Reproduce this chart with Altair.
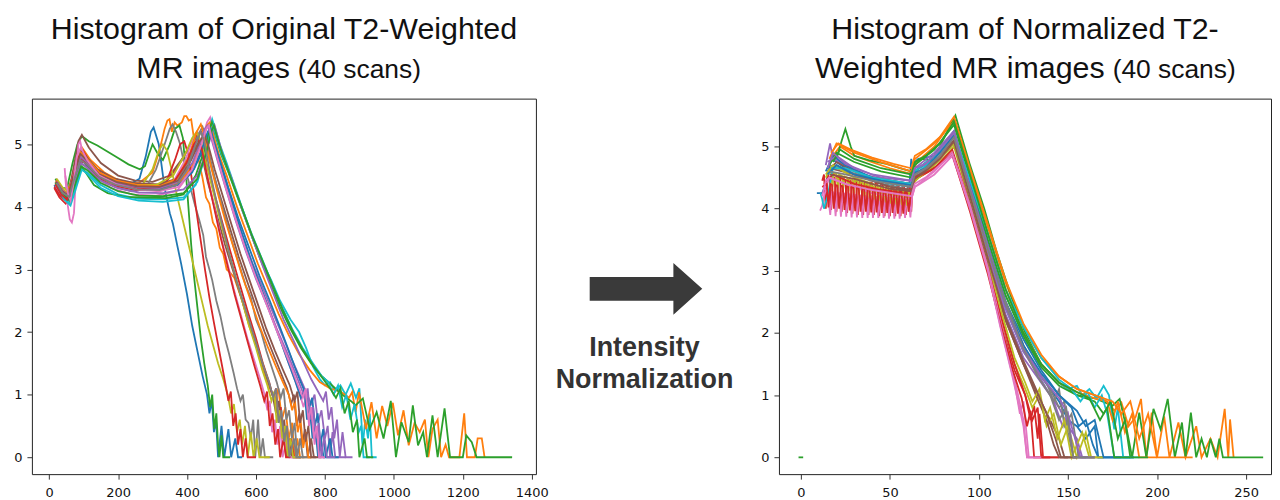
import altair as alt
import pandas as pd

TAB10 = ['#1f77b4', '#ff7f0e', '#2ca02c', '#d62728', '#9467bd',
         '#8c564b', '#e377c2', '#7f7f7f', '#bcbd22', '#17becf']

LEFT_TITLE = ["Histogram of Original T2-Weighted", "MR images", "(40 scans)"]
RIGHT_TITLE = ["Histogram of Normalized T2-", "Weighted MR images", "(40 scans)"]
MID_TEXT = ["Intensity", "Normalization"]

LEFT_XTICKS = [0, 200, 400, 600, 800, 1000, 1200, 1400]
RIGHT_XTICKS = [0, 50, 100, 150, 200, 250]
YTICKS = [0, 1, 2, 3, 4, 5]

# ---------------- Original histograms (left) ----------------
L00 = [(15,4.35),(30,4.2),(45,4.12),(60,4.2),(75,4.6),(92,4.85),(110,4.72),(140,4.55),(180,4.42),(230,4.35),(262,4.45),(280,4.8),(295,5.2),(303,5.27),(318,5.0),(335,4.3),(350,3.9),(359,3.73),(371,3.4),(383,3.09),(400,2.6),(415,2.1),(430,1.7),(445,1.3),(458,1.0),(465,0.7),(472,0.9),(478,0.4),(484,0.6),(490,0),(500,0.5),(508,0),(520,0.45),(528,0),(540,0.3),(548,0),(560,0)]
L01 = [(20,4.45),(35,4.3),(50,4.2),(65,4.45),(80,4.8),(95,4.95),(120,4.75),(160,4.55),(210,4.4),(260,4.38),(300,4.55),(320,4.9),(335,5.25),(343,5.38),(349,5.4),(356,5.2),(364,5.35),(372,5.3),(385,5.35),(392,5.45),(398,5.45),(405,5.38),(412,5.4),(420,5.1),(432,4.8),(445,4.46),(455,4.15),(465,4.05),(475,3.75),(485,3.65),(495,3.35),(505,3.25),(515,3.0),(525,2.95),(537,2.87),(560,2.5),(580,2.1),(600,1.8),(620,1.4),(640,1.1),(655,0.9),(665,1.1),(675,0.6),(685,0.8),(695,0.3),(705,0.55),(712,0),(720,0.3),(728,0),(760,0)]
L02 = [(18,4.45),(35,4.3),(52,4.3),(68,4.7),(82,5.0),(95,5.13),(115,5.05),(140,4.98),(170,4.88),(200,4.78),(230,4.68),(263,4.6),(278,4.65),(290,4.85),(300,5.0),(315,4.85),(330,4.75),(350,5.0),(365,5.25),(378,5.3),(388,5.1),(396,4.6),(404,4.0),(412,3.4),(420,2.9),(430,2.4),(440,1.9),(450,1.5),(460,1.15),(467,0.8),(473,1.0),(479,0.45),(485,0.7),(490,0.2),(494,0),(500,0.35),(505,0),(525,0)]
L03 = [(15,4.3),(30,4.15),(48,4.05),(62,4.15),(78,4.6),(98,4.9),(125,4.65),(170,4.45),(230,4.35),(290,4.3),(340,4.4),(380,4.7),(410,5.0),(430,5.15),(442,5.2),(450,5.0),(456,4.7),(475,4.3),(500,3.8),(525,3.3),(551,2.8),(575,2.35),(600,1.9),(620,1.5),(638,1.2),(650,0.95),(658,1.1),(665,0.6),(672,0.8),(680,0.3),(688,0.5),(695,0),(702,0.3),(710,0),(730,0)]
L04 = [(20,4.35),(40,4.2),(58,4.15),(72,4.45),(90,4.75),(105,4.7),(140,4.5),(190,4.35),(250,4.28),(320,4.27),(370,4.35),(410,4.6),(440,5.0),(455,5.25),(462,5.3),(470,5.15),(485,4.85),(505,4.5),(530,4.0),(560,3.55),(590,3.1),(620,2.7),(650,2.3),(680,1.9),(705,1.55),(725,1.3),(745,1.05),(760,0.85),(770,1.0),(780,0.55),(790,0.75),(800,0.3),(808,0.5),(815,0),(822,0.4),(830,0),(860,0)]
L05 = [(18,4.4),(35,4.25),(55,4.15),(70,4.6),(85,5.05),(95,5.15),(115,4.95),(150,4.7),(200,4.5),(250,4.42),(300,4.4),(350,4.5),(390,4.8),(415,5.05),(428,5.1),(440,4.9),(460,4.4),(485,3.9),(510,3.4),(535,2.95),(560,2.5),(585,2.05),(610,1.65),(630,1.3),(648,1.0),(658,0.7),(666,0.9),(674,0.4),(682,0.6),(690,0),(698,0.3),(705,0),(730,0)]
L06 = [(45,4.62),(52,4.1),(60,3.8),(66,3.75),(72,3.9),(78,4.5),(85,5.0),(90,5.05),(100,4.8),(130,4.5),(180,4.3),(240,4.2),(310,4.18),(370,4.25),(410,4.55),(440,5.0),(458,5.35),(467,5.43),(475,5.2),(490,4.8),(510,4.4),(540,3.85),(570,3.35),(600,2.9),(630,2.5),(660,2.05),(685,1.65),(705,1.35),(725,1.05),(738,0.8),(746,1.0),(754,0.5),(762,0.7),(770,0.2),(778,0.5),(785,0),(800,0)]
L07 = [(20,4.3),(40,4.15),(58,4.1),(72,4.4),(88,4.7),(105,4.65),(140,4.45),(190,4.32),(240,4.25),(280,4.3),(310,4.6),(335,5.0),(350,5.25),(358,5.32),(368,5.2),(380,5.0),(395,4.6),(410,4.3),(422,4.05),(436,3.78),(447,3.55),(455,3.2),(465,3.0),(473,2.83),(485,2.5),(497,2.25),(510,1.9),(522,1.65),(535,1.35),(545,1.1),(555,0.9),(562,1.0),(570,0.6),(578,0.55),(585,0.3),(592,0.6),(598,0),(606,0.6),(613,0),(620,0.3),(626,0),(650,0)]
L08 = [(22,4.45),(40,4.3),(58,4.25),(74,4.55),(92,4.85),(110,4.7),(140,4.5),(180,4.38),(230,4.3),(270,4.35),(300,4.6),(318,4.9),(330,5.0),(342,4.9),(355,4.6),(370,4.2),(385,3.85),(400,3.5),(415,3.15),(430,2.8),(445,2.45),(460,2.1),(475,1.8),(490,1.5),(505,1.25),(518,1.0),(528,0.7),(536,0.85),(545,0.4),(553,0.6),(560,0.2),(568,0.5),(576,0),(585,0.4),(593,0),(602,0.3),(610,0),(640,0)]
L09 = [(25,4.35),(42,4.15),(60,4.05),(75,4.3),(92,4.6),(110,4.55),(150,4.35),(200,4.2),(260,4.13),(330,4.12),(390,4.15),(425,4.35),(445,4.7),(460,5.1),(473,5.4),(482,5.25),(495,5.0),(515,4.7),(540,4.3),(565,3.9),(590,3.5),(615,3.15),(644,2.83),(670,2.5),(700,2.2),(725,2.0),(745,1.75),(765,1.45),(785,1.25),(800,1.15),(815,1.2),(830,1.05),(845,1.15),(860,1.0),(875,1.18),(890,0.95),(900,1.1),(910,0.2),(917,0.6),(925,0.3),(930,0.7),(936,0),(950,0)]
L10 = [(20,4.4),(38,4.25),(55,4.2),(70,4.5),(88,4.8),(105,4.72),(140,4.52),(190,4.4),(250,4.33),(320,4.3),(380,4.38),(420,4.6),(450,4.95),(465,5.15),(472,5.2),(482,5.0),(500,4.65),(525,4.2),(555,3.65),(585,3.15),(615,2.7),(645,2.25),(672,1.85),(695,1.5),(715,1.2),(730,0.95),(740,1.1),(748,0.6),(756,0.8),(764,0.3),(772,0.5),(780,0),(788,0.3),(796,0),(820,0)]
L11 = [(22,4.4),(40,4.25),(58,4.2),(73,4.5),(90,4.85),(108,4.78),(140,4.6),(190,4.45),(250,4.35),(320,4.3),(380,4.4),(420,4.7),(445,5.05),(458,5.3),(466,5.35),(476,5.15),(492,4.85),(515,4.5),(545,4.0),(575,3.55),(605,3.1),(635,2.7),(665,2.3),(695,1.95),(725,1.65),(755,1.4),(785,1.2),(815,1.1),(845,1.05),(870,0.95),(879,1.04),(889,0.72),(899,1.04),(919,0.45),(935,0.88),(950,0.3),(966,0.82),(981,0.5),(997,0.87),(1012,0.35),(1028,0.75),(1043,0.19),(1060,0.55),(1075,0.4),(1090,0.6),(1100,0),(1112,0.45),(1127,0.6),(1137,0),(1150,0.2),(1160,0),(1190,0),(1204,0.7),(1212,0),(1235,0),(1243,0.3),(1255,0.3),(1263,0)]
L12 = [(18,4.38),(35,4.2),(52,4.12),(68,4.35),(85,4.65),(100,4.6),(130,4.35),(170,4.22),(220,4.16),(280,4.15),(340,4.14),(390,4.2),(425,4.5),(450,4.9),(465,5.25),(472,5.35),(482,5.15),(498,4.85),(520,4.55),(550,4.1),(580,3.65),(610,3.2),(640,2.8),(670,2.4),(700,2.05),(730,1.75),(760,1.5),(790,1.3),(820,1.15),(850,1.0),(875,0.9),(889,0.83),(910,0.94),(930,0.45),(950,0.72),(970,0.3),(991,0.9),(1006,0),(1022,0.56),(1043,0.24),(1055,0.83),(1070,0.19),(1085,0.4),(1096,0),(1112,0.67),(1127,0),(1147,0.78),(1163,0),(1200,0),(1210,0.35),(1226,0.24),(1240,0),(1343,0)]
L13 = [(15,4.32),(32,4.18),(50,4.1),(65,4.35),(82,4.7),(100,4.72),(130,4.5),(180,4.35),(240,4.28),(300,4.27),(340,4.4),(365,4.75),(380,5.0),(392,5.05),(403,4.85),(415,4.4),(428,3.9),(440,3.45),(452,3.0),(465,2.55),(478,2.15),(490,1.8),(502,1.45),(512,1.15),(520,0.9),(527,1.05),(534,0.5),(541,0.7),(548,0.2),(555,0.45),(562,0),(570,0.3),(576,0),(600,0)]
L14 = [(24,4.36),(42,4.2),(60,4.12),(75,4.4),(93,4.7),(112,4.62),(150,4.42),(200,4.3),(260,4.23),(330,4.22),(390,4.28),(430,4.5),(458,4.9),(472,5.2),(480,5.3),(490,5.1),(505,4.8),(530,4.45),(560,3.95),(590,3.5),(620,3.05),(650,2.62),(680,2.2),(710,1.85),(735,1.55),(760,1.25),(780,1.05),(795,0.9),(803,1.05),(811,0.6),(819,0.8),(827,0.3),(835,0.6),(843,0),(851,0.4),(860,0),(880,0)]
L15 = [(20,4.42),(38,4.27),(56,4.2),(72,4.55),(90,4.9),(108,4.8),(140,4.6),(190,4.45),(250,4.38),(320,4.36),(370,4.45),(405,4.75),(430,5.0),(445,5.1),(457,4.95),(475,4.55),(500,4.1),(525,3.65),(550,3.2),(575,2.8),(600,2.4),(625,2.0),(650,1.65),(672,1.35),(690,1.1),(702,0.85),(710,1.0),(718,0.5),(726,0.7),(734,0.2),(742,0.45),(750,0),(760,0.3),(768,0),(790,0)]
L16 = [(18,4.35),(35,4.2),(52,4.13),(68,4.45),(85,4.85),(102,4.78),(135,4.55),(185,4.4),(245,4.33),(310,4.3),(360,4.4),(395,4.75),(418,5.1),(430,5.2),(440,5.05),(455,4.6),(475,4.1),(495,3.6),(515,3.15),(535,2.7),(555,2.3),(575,1.9),(595,1.55),(612,1.25),(625,1.0),(633,0.75),(640,0.9),(647,0.4),(655,0.6),(662,0.2),(670,0.5),(677,0),(690,0.3),(697,0),(720,0)]
L17 = [(22,4.4),(40,4.26),(58,4.2),(74,4.5),(92,4.8),(110,4.72),(145,4.5),(195,4.38),(255,4.3),(320,4.3),(375,4.45),(410,4.8),(432,5.15),(445,5.28),(455,5.1),(470,4.7),(490,4.25),(510,3.85),(530,3.45),(550,3.1),(570,2.75),(585,2.55),(600,2.2),(615,2.0),(630,1.7),(645,1.45),(660,1.2),(672,0.95),(680,1.1),(688,0.6),(696,0.75),(704,0.3),(712,0.55),(720,0),(728,0.3),(736,0),(760,0)]
L18 = [(20,4.4),(38,4.27),(56,4.22),(72,4.5),(90,4.82),(108,4.72),(140,4.52),(190,4.4),(250,4.35),(310,4.35),(360,4.5),(395,4.85),(415,5.1),(428,5.2),(440,5.05),(458,4.65),(480,4.15),(500,3.7),(520,3.3),(540,2.9),(560,2.5),(580,2.1),(600,1.75),(618,1.4),(633,1.15),(645,0.9),(653,1.05),(660,0.55),(668,0.75),(676,0.3),(684,0.5),(692,0),(700,0.3),(708,0),(730,0)]
L19 = [(26,4.3),(44,4.12),(62,4.02),(78,4.3),(95,4.6),(112,4.52),(150,4.3),(200,4.17),(260,4.1),(330,4.08),(390,4.12),(430,4.4),(455,4.85),(468,5.2),(476,5.3),(486,5.1),(500,4.85),(525,4.5),(555,4.05),(585,3.6),(615,3.2),(645,2.8),(675,2.4),(705,2.05),(735,1.75),(765,1.5),(790,1.3),(810,1.2),(825,1.0),(838,1.15),(850,0.8),(862,1.0),(874,0.6),(886,0.85),(898,0.4),(905,0.5),(912,0),(930,0)]
L20 = [(22,4.38),(40,4.22),(58,4.15),(72,4.45),(90,4.78),(108,4.68),(145,4.48),(195,4.36),(255,4.3),(320,4.28),(375,4.35),(415,4.55),(445,4.95),(460,5.2),(468,5.25),(478,5.05),(495,4.75),(520,4.3),(550,3.8),(580,3.35),(610,2.9),(640,2.5),(668,2.1),(692,1.75),(712,1.45),(730,1.2),(745,1.0),(755,0.8),(763,0.95),(771,0.5),(779,0.7),(787,0.2),(795,0.45),(802,0),(815,0.3),(822,0),(840,0)]
L21 = [(20,4.42),(38,4.27),(56,4.2),(72,4.5),(90,4.88),(108,4.78),(145,4.55),(195,4.42),(255,4.35),(320,4.33),(370,4.45),(405,4.8),(428,5.2),(440,5.32),(450,5.15),(465,4.75),(485,4.3),(510,3.8),(535,3.35),(560,2.9),(585,2.5),(610,2.1),(635,1.75),(658,1.45),(678,1.2),(695,1.0),(705,0.75),(713,0.9),(721,0.4),(729,0.6),(737,0.15),(745,0.4),(752,0),(765,0)]
L22 = [(24,4.36),(42,4.2),(60,4.1),(75,4.35),(93,4.65),(112,4.58),(150,4.38),(200,4.25),(260,4.18),(330,4.17),(390,4.22),(430,4.45),(455,4.85),(470,5.2),(478,5.3),(488,5.1),(502,4.85),(528,4.45),(558,4.0),(588,3.55),(618,3.15),(648,2.75),(678,2.35),(708,2.0),(738,1.7),(768,1.45),(795,1.25),(815,1.1),(832,0.95),(845,1.1),(857,0.7),(869,0.9),(881,0.4),(893,0.6),(900,0),(915,0.3),(922,0),(940,0)]
L23 = [(18,4.36),(35,4.2),(52,4.12),(68,4.45),(86,4.8),(104,4.72),(140,4.5),(190,4.38),(250,4.3),(310,4.28),(360,4.38),(398,4.7),(420,5.0),(432,5.08),(442,4.95),(458,4.5),(478,4.0),(498,3.5),(518,3.05),(538,2.6),(558,2.2),(578,1.8),(596,1.45),(612,1.15),(624,0.9),(632,1.05),(640,0.5),(648,0.7),(656,0.2),(664,0.45),(670,0),(680,0.3),(687,0),(700,0)]
L24 = [(22,4.4),(40,4.25),(58,4.18),(73,4.48),(91,4.8),(109,4.72),(145,4.5),(195,4.38),(255,4.32),(320,4.3),(375,4.4),(415,4.7),(440,5.05),(452,5.25),(460,5.3),(470,5.1),(488,4.75),(512,4.3),(540,3.8),(570,3.3),(600,2.85),(630,2.45),(660,2.05),(688,1.7),(710,1.4),(728,1.15),(742,0.95),(750,1.1),(758,0.6),(766,0.8),(774,0.3),(782,0.55),(790,0),(798,0.35),(806,0),(830,0)]
L25 = [(20,4.4),(38,4.25),(56,4.18),(72,4.5),(90,4.85),(108,4.75),(145,4.52),(195,4.4),(255,4.33),(320,4.32),(375,4.42),(412,4.75),(437,5.05),(450,5.15),(462,4.98),(480,4.6),(505,4.15),(530,3.7),(555,3.25),(580,2.85),(605,2.45),(630,2.05),(655,1.7),(678,1.4),(698,1.15),(712,0.9),(720,1.05),(728,0.55),(736,0.75),(744,0.25),(752,0.5),(760,0),(775,0)]
L26 = [(47,4.5),(55,4.2),(62,4.1),(70,4.35),(80,4.8),(92,4.95),(110,4.75),(145,4.5),(195,4.36),(255,4.28),(320,4.25),(375,4.32),(415,4.6),(442,5.0),(456,5.25),(463,5.3),(472,5.1),(488,4.78),(510,4.35),(538,3.85),(568,3.35),(598,2.9),(628,2.48),(656,2.08),(682,1.72),(704,1.42),(722,1.15),(736,0.95),(744,1.1),(752,0.6),(760,0.8),(768,0.3),(776,0.5),(783,0),(800,0)]
L27 = [(22,4.38),(40,4.22),(58,4.16),(73,4.45),(91,4.75),(109,4.68),(145,4.48),(195,4.35),(255,4.28),(320,4.27),(370,4.35),(400,4.6),(425,5.0),(440,5.2),(450,5.05),(465,4.6),(485,4.1),(505,3.65),(525,3.2),(545,2.8),(565,2.45),(585,2.1),(605,1.75),(622,1.45),(638,1.2),(650,0.95),(658,1.1),(666,0.55),(674,0.75),(682,0.25),(690,0.5),(697,0),(710,0.3),(717,0),(740,0)]

# ---------------- Normalized histograms (right) ----------------
R00 = [(9,4.25),(12,4.25),(14,4.4),(17,4.8),(20,4.75),(30,4.55),(45,4.45),(61,4.4),(62,4.8),(63,4.45),(64,4.75),(66,4.8),(75,4.85),(86,5.2),(95,4.3),(105,3.3),(115,2.4),(125,1.7),(135,1.3),(145,0.9),(150,0.6),(155,0.5),(160,0.3),(165,0.5),(167,0),(187,0)]
R01 = [(18,4.85),(22,5.0),(30,4.85),(40,4.75),(50,4.65),(63,4.55),(65,4.75),(75,5.0),(86,5.45),(95,4.6),(105,3.7),(115,2.8),(125,2.1),(135,1.6),(145,1.3),(155,1.1),(165,1.0),(173,0.88),(176,0.75),(180,0.88),(184,0.5),(188,0.65),(191,0.94),(194,0),(197,0.72),(200,0),(204,0.66),(207,0),(212,0.56),(216,0),(222,0.5),(225,0),(230,0.3),(234,0),(238,0.78),(240,0),(241,0.61),(243,0)]
R02 = [(20,4.8),(23,5.1),(25,5.28),(28,5.0),(30,4.85),(38,4.78),(48,4.72),(57,4.64),(62,4.6),(64,4.75),(68,4.8),(73,4.78),(78,5.0),(82.5,5.25),(86.8,5.5),(95,4.7),(103,4.0),(110,3.3),(118,2.6),(126,2.0),(135,1.5),(145,1.2),(155,1.0),(165,0.95),(175,0.83),(179,0.94),(183,0.45),(186,0),(190,0.72),(194,0),(198,0.78),(202,0.45),(206,0.94),(210,0),(214,0.56),(216,0),(219,0.72),(222,0),(225,0.3),(228,0),(230,0.3),(233,0),(235,0.3),(237,0),(259.6,0)]
R03 = [(12,4.45),(13,4.55),(14,4.0),(15,4.55),(16,4.5),(17,3.98),(18,4.5),(19,4.5),(20,3.95),(21,4.5),(22,4.48),(23,3.95),(24,4.48),(25,4.46),(26,3.93),(27,4.46),(28,4.45),(29,3.92),(30,4.45),(31,4.44),(32,3.9),(33,4.44),(34,4.43),(35,3.9),(36,4.43),(37,4.42),(38,3.9),(39,4.42),(40,4.41),(41,3.9),(42,4.41),(43,4.4),(44,3.88),(45,4.4),(46,4.4),(47,3.88),(48,4.4),(49,4.38),(50,3.88),(51,4.38),(52,4.37),(53,3.88),(54,4.37),(55,4.36),(56,3.88),(57,4.36),(58,4.36),(59,3.9),(60,4.35),(61,4.36),(62,3.95),(63,4.5),(66,4.55),(70,4.6),(78,4.7),(85,4.9),(95,4.0),(105,3.0),(113,2.1),(120,1.4),(126,1.0),(129,0.6),(131,0.83),(133,0.3),(134,0.7),(136,0),(150,0)]
R04 = [(14,4.7),(16.4,5.05),(18,4.8),(25,4.7),(35,4.55),(50,4.45),(62,4.4),(64,4.6),(75,4.8),(86,5.2),(95,4.3),(105,3.3),(115,2.3),(125,1.6),(135,1.2),(145,0.8),(150,0.5),(155,0.3),(158,0),(170,0)]
R05 = [(15,4.6),(20,4.75),(30,4.6),(45,4.45),(62,4.35),(64,4.55),(75,4.75),(86,5.1),(95,4.2),(105,3.2),(115,2.2),(125,1.5),(133,1.0),(140,0.6),(145,0.3),(148,0),(160,0)]
R06 = [(10.8,3.97),(12,4.05),(13,4.2),(14,4.3),(15,4.28),(16.5,3.9),(17.5,4.27),(18.5,4.26),(19.5,3.88),(20.5,4.26),(21.5,4.25),(22.5,3.87),(23.5,4.25),(24.5,4.24),(25.5,3.87),(26.5,4.24),(27.5,4.23),(28.5,3.86),(29.5,4.23),(30.5,4.22),(31.5,3.86),(32.5,4.22),(33.5,4.21),(34.5,3.85),(35.5,4.21),(36.5,4.2),(37.5,3.85),(38.5,4.2),(39.5,4.2),(40.5,3.85),(41.5,4.2),(42.5,4.19),(43.5,3.85),(44.5,4.19),(45.5,4.18),(46.5,3.85),(47.5,4.18),(48.5,4.18),(49.5,3.84),(50.5,4.18),(51.5,4.17),(52.5,3.84),(53.5,4.17),(54.5,4.17),(55.5,3.84),(56.5,4.17),(57.5,4.16),(58.5,3.85),(59.5,4.16),(60.5,4.16),(61.5,3.86),(62.5,4.2),(64,4.35),(67,4.4),(75,4.55),(85,4.85),(95,4.0),(105,3.0),(113,2.0),(120,1.2),(123,0.7),(125,0.9),(128,0),(140,0)]
R07 = [(15,4.6),(20,4.7),(30,4.55),(45,4.4),(62,4.3),(64,4.5),(75,4.75),(86,5.15),(95,4.3),(105,3.4),(115,2.5),(125,1.8),(135,1.3),(140,1.1),(145,0.8),(148,0.9),(150,0.4),(153,0),(165,0)]
R08 = [(14,4.5),(16,4.62),(17,4.58),(17.7,4.35),(18.4,4.57),(20,4.56),(20.7,4.33),(21.4,4.55),(23,4.53),(23.7,4.3),(24.4,4.52),(26,4.5),(26.7,4.28),(27.4,4.49),(29,4.47),(29.7,4.25),(30.4,4.46),(32,4.44),(32.7,4.22),(33.4,4.43),(35,4.41),(35.7,4.2),(36.4,4.4),(38,4.38),(38.7,4.17),(39.4,4.37),(41,4.35),(41.7,4.15),(42.4,4.34),(44,4.33),(44.7,4.12),(45.4,4.32),(47,4.3),(47.7,4.1),(48.4,4.3),(50,4.28),(50.7,4.08),(51.4,4.28),(53,4.26),(53.7,4.07),(54.4,4.26),(56,4.25),(56.7,4.06),(57.4,4.25),(59,4.24),(59.7,4.05),(60.4,4.24),(62,4.23),(63,4.4),(66,4.5),(75,4.65),(86,5.0),(95,4.1),(105,3.1),(113,2.2),(120,1.5),(126,1.1),(130,0.8),(134,1.0),(138,0.5),(142,0.7),(146,0.2),(150,0.5),(155,0),(160,0.4),(163,0),(170,0)]
R09 = [(11,4.25),(12,4.15),(13,4.0),(15,4.2),(18,4.65),(22,4.65),(35,4.5),(50,4.4),(62,4.35),(64,4.55),(75,4.8),(86,5.2),(95,4.4),(105,3.5),(115,2.6),(125,2.0),(135,1.5),(145,1.2),(150,1.1),(155,1.15),(158,1.0),(162,1.1),(166,0.95),(170,1.15),(173,1.0),(176,0.45),(178,0.8),(181,0),(190,0)]
R10 = [(14,4.6),(18,4.85),(25,4.7),(40,4.5),(62,4.4),(64,4.6),(75,4.85),(86,5.25),(95,4.4),(105,3.4),(115,2.5),(125,1.9),(135,1.4),(145,1.0),(152,0.8),(156,0.5),(160,0.6),(164,0.2),(167,0),(187,0)]
R11 = [(16,4.8),(20,5.05),(30,4.9),(45,4.75),(62,4.6),(64,4.8),(75,5.05),(86,5.4),(95,4.55),(105,3.6),(115,2.7),(125,2.0),(135,1.5),(145,1.2),(155,1.05),(165,0.95),(172,0.9),(175,0.6),(178,0.9),(182,0.4),(186,0.7),(190,0),(200,0)]
R12 = [(16,4.7),(20,4.9),(30,4.75),(45,4.6),(62,4.5),(64,4.7),(75,4.95),(86,5.35),(95,4.5),(105,3.5),(115,2.6),(125,1.95),(135,1.45),(145,1.15),(155,1.0),(165,0.9),(170,0.7),(174,0.9),(178,0.3),(182,0.6),(185,0),(195,0)]
R13 = [(13,4.4),(18,4.55),(30,4.4),(45,4.3),(60,4.25),(63,4.45),(75,4.65),(85,4.95),(95,4.05),(105,3.05),(113,2.2),(120,1.5),(126,1.0),(130,0.6),(133,0.8),(135,0),(145,0)]
R14 = [(15,4.75),(20,4.85),(30,4.65),(45,4.5),(62,4.45),(64,4.65),(75,4.9),(86,5.25),(95,4.35),(105,3.35),(115,2.4),(125,1.7),(135,1.25),(142,0.9),(147,0.5),(150,0.7),(153,0),(165,0)]
R15 = [(16,4.65),(30,4.55),(50,4.35),(62,4.3),(64,4.5),(75,4.7),(86,5.05),(95,4.15),(105,3.15),(115,2.2),(125,1.5),(132,1.0),(138,0.6),(142,0.2),(145,0),(155,0)]
R16 = [(13,4.3),(16,4.5),(25,4.4),(40,4.25),(62,4.15),(64,4.35),(75,4.6),(85,4.9),(95,4.05),(105,3.05),(112,2.2),(118,1.5),(122,1.0),(125,0.6),(127,0),(135,0)]
R17 = [(16,4.7),(25,4.6),(40,4.5),(62,4.4),(64,4.6),(75,4.85),(86,5.2),(95,4.35),(105,3.4),(115,2.5),(125,1.8),(132,1.4),(138,1.2),(142,0.9),(145,1.1),(148,0.5),(152,0.7),(156,0),(165,0)]
R18 = [(14,4.55),(18,4.7),(30,4.5),(45,4.35),(62,4.25),(64,4.45),(75,4.7),(86,5.05),(95,4.2),(105,3.2),(113,2.3),(120,1.6),(126,1.2),(130,0.9),(134,1.1),(137,0.6),(140,0.8),(144,0.3),(148,0.6),(152,0),(158,0.4),(162,0),(170,0)]
R19 = [(17,4.65),(25,4.65),(40,4.5),(62,4.4),(64,4.6),(75,4.85),(86,5.2),(95,4.45),(105,3.6),(115,2.7),(125,2.1),(135,1.6),(145,1.25),(152,1.1),(157,0.9),(161,1.05),(165,0.8),(169,1.0),(172,0.7),(176,0),(185,0)]
R20 = [(15,4.55),(20,4.7),(30,4.55),(45,4.45),(62,4.38),(64,4.58),(70,4.65),(78,4.9),(86,5.18),(95,4.35),(105,3.4),(115,2.45),(125,1.8),(135,1.35),(145,1.0),(155,0.75),(160,0.5),(165,0.6),(170,0),(180,0)]
R21 = [(17,4.9),(21,5.05),(28,4.95),(40,4.82),(52,4.72),(62,4.65),(64,4.85),(70,4.95),(78,5.15),(86,5.48),(95,4.65),(105,3.75),(115,2.85),(125,2.15),(135,1.65),(145,1.3),(155,1.1),(165,1.0),(175,0.9),(180,0.7),(185,0.9),(190,0.3),(195,0.7),(200,0),(220,0)]
R22 = [(18,4.75),(22,4.95),(30,4.8),(45,4.65),(62,4.55),(64,4.75),(70,4.85),(78,5.05),(86,5.4),(95,4.55),(105,3.6),(115,2.7),(125,2.0),(135,1.5),(145,1.2),(155,1.05),(162,0.95),(168,0.6),(172,0.8),(176,0),(185,0)]
R23 = [(12,4.35),(14.5,4.4),(15.5,4.02),(16.5,4.4),(17.5,4.38),(18.5,4.0),(19.5,4.38),(20.5,4.37),(21.5,4.0),(22.5,4.37),(23.5,4.36),(24.5,3.98),(25.5,4.36),(26.5,4.35),(27.5,3.97),(28.5,4.35),(29.5,4.34),(30.5,3.96),(31.5,4.34),(32.5,4.33),(33.5,3.95),(34.5,4.33),(35.5,4.32),(36.5,3.95),(37.5,4.32),(38.5,4.31),(39.5,3.94),(40.5,4.31),(41.5,4.3),(42.5,3.94),(43.5,4.3),(44.5,4.3),(45.5,3.93),(46.5,4.3),(47.5,4.29),(48.5,3.93),(49.5,4.29),(50.5,4.28),(51.5,3.93),(52.5,4.28),(53.5,4.28),(54.5,3.92),(55.5,4.28),(56.5,4.27),(57.5,3.92),(58.5,4.27),(59.5,4.27),(60.5,3.95),(62,4.3),(63.5,4.5),(68,4.55),(75,4.65),(85,4.88),(95,3.95),(105,2.95),(113,2.05),(119,1.4),(124,0.95),(127,0.5),(129,0.75),(131,0),(140,0)]
R24 = [(15,4.65),(18,4.9),(25,4.72),(40,4.55),(62,4.45),(64,4.65),(70,4.72),(78,4.95),(86,5.22),(95,4.35),(105,3.4),(115,2.45),(125,1.75),(135,1.3),(145,0.95),(150,0.7),(154,0.3),(157,0),(165,0)]
R25 = [(16,4.55),(30,4.48),(50,4.32),(62,4.28),(64,4.48),(70,4.6),(78,4.8),(86,5.08),(95,4.2),(105,3.2),(115,2.25),(125,1.55),(132,1.1),(138,0.7),(143,0.3),(146,0),(155,0)]
R26 = [(12,4.2),(14,4.45),(16,4.5),(25,4.4),(40,4.3),(62,4.2),(64,4.4),(70,4.5),(78,4.7),(85,4.88),(95,4.0),(105,3.0),(112,2.1),(118,1.4),(122,0.9),(125,0.5),(127,0),(135,0)]
R27 = [(16,4.6),(25,4.55),(40,4.45),(62,4.35),(64,4.55),(70,4.65),(78,4.85),(86,5.15),(95,4.3),(105,3.35),(115,2.45),(125,1.75),(133,1.3),(140,1.0),(145,0.6),(149,0.8),(153,0),(165,0)]
R_DASH = [(-1.3,0),(1.3,0)]

LEFT_SERIES = [L00, L01, L02, L03, L04, L05, L06, L07, L08, L09,
               L10, L11, L12, L13, L14, L15, L16, L17, L18, L19,
               L20, L21, L22, L23, L24, L25, L26, L27]
RIGHT_SERIES = [R00, R01, R02, R03, R04, R05, R06, R07, R08, R09,
                R10, R11, R12, R13, R14, R15, R16, R17, R18, R19,
                R20, R21, R22, R23, R24, R25, R26, R27]


def to_frame(series, prefix):
    rows = []
    for i, pts in enumerate(series):
        for j, (x, y) in enumerate(pts):
            rows.append({"scan": f"{prefix}{i:02d}", "x": x, "y": y, "k": j})
    return pd.DataFrame(rows)


left_df = to_frame(LEFT_SERIES, "o")
right_df = to_frame(RIGHT_SERIES, "n")
dash_df = to_frame([R_DASH], "d")
left_names = [f"o{i:02d}" for i in range(len(LEFT_SERIES))]
right_names = [f"n{i:02d}" for i in range(len(RIGHT_SERIES))]
left_colors = [TAB10[i % 10] for i in range(len(LEFT_SERIES))]
right_colors = [TAB10[i % 10] for i in range(len(RIGHT_SERIES))]

PW_L, PW_M, PW_R, PH = 506, 244, 494, 377
TITLE_FONT = "Liberation Sans"
TICK_FONT = "DejaVu Sans"
LW = 1.8


def axis(vals, pad):
    return alt.Axis(values=vals, title=None, grid=False, domain=False, format="d",
                    labelFont=TICK_FONT, labelFontSize=13, labelColor="#111",
                    tickColor="#333", tickSize=5, tickWidth=1,
                    labelPadding=pad, labelOverlap=False)


def panel(df, names, colors, xdom, xticks, ydom, width, t1, t2a, t2b, split, extra=None):
    xs = alt.Scale(domain=xdom, nice=False, zero=False)
    ys = alt.Scale(domain=ydom, nice=False, zero=False)
    lines = alt.Chart(df).mark_line(strokeWidth=LW, clip=True).encode(
        x=alt.X("x:Q", scale=xs, axis=axis(xticks, 7)),
        y=alt.Y("y:Q", scale=ys, axis=axis(YTICKS, 5)),
        color=alt.Color("scan:N", scale=alt.Scale(domain=names, range=colors),
                        legend=None),
        order="k:Q",
    )
    layers = [lines]
    if extra is not None:
        layers.append(alt.Chart(extra).mark_line(strokeWidth=LW, color=TAB10[2]).encode(
            x=alt.X("x:Q", scale=xs), y=alt.Y("y:Q", scale=ys), order="k:Q"))
    c = width / 2
    l1 = alt.Chart(pd.DataFrame({"t": [t1]})).mark_text(
        font=TITLE_FONT, fontSize=30.5, color="#111", align="center",
        baseline="alphabetic").encode(x=alt.value(c), y=alt.value(-60), text="t:N")
    l2a = alt.Chart(pd.DataFrame({"t": [t2a]})).mark_text(
        font=TITLE_FONT, fontSize=30.5, color="#111", align="right",
        baseline="alphabetic").encode(x=alt.value(c + split - 8), y=alt.value(-21), text="t:N")
    l2b = alt.Chart(pd.DataFrame({"t": [t2b]})).mark_text(
        font=TITLE_FONT, fontSize=26.5, color="#111", align="left",
        baseline="alphabetic").encode(x=alt.value(c + split), y=alt.value(-21), text="t:N")
    layers += [l1, l2a, l2b]
    return alt.layer(*layers).properties(width=width, height=PH)


left = panel(left_df, left_names, left_colors, [-50, 1412], LEFT_XTICKS,
             [-0.27, 5.73], PW_L, LEFT_TITLE[0], LEFT_TITLE[1], LEFT_TITLE[2], 14)
right = panel(right_df, right_names, right_colors, [-12.3, 264], RIGHT_XTICKS,
              [-0.27, 5.77], PW_R, RIGHT_TITLE[0], RIGHT_TITLE[1], RIGHT_TITLE[2], 88,
              extra=dash_df)

ARROW = "M -1 -0.212 L 0.487 -0.212 L 0.487 -0.46 L 1 0 L 0.487 0.46 L 0.487 0.212 L -1 0.212 Z"
arrow = alt.Chart(pd.DataFrame({"a": [1]})).mark_point(
    shape=ARROW, size=12769, filled=True, color="#3a3a3a", opacity=1, strokeWidth=0
).encode(x=alt.value(110.5), y=alt.value(191))
txt1 = alt.Chart(pd.DataFrame({"t": [MID_TEXT[0]]})).mark_text(
    font=TITLE_FONT, fontSize=27, fontWeight="bold", color="#333",
    align="center", baseline="alphabetic").encode(x=alt.value(109), y=alt.value(258), text="t:N")
txt2 = alt.Chart(pd.DataFrame({"t": [MID_TEXT[1]]})).mark_text(
    font=TITLE_FONT, fontSize=27, fontWeight="bold", color="#333",
    align="center", baseline="alphabetic").encode(x=alt.value(109), y=alt.value(291), text="t:N")
mid = alt.layer(arrow, txt1, txt2).properties(
    width=PW_M, height=PH, view=alt.ViewBackground(strokeWidth=0, strokeOpacity=0))

chart = alt.hconcat(left, mid, right, spacing=0, bounds="flush").properties(
    padding={"left": 5, "top": 5, "right": 0, "bottom": 0},
    background="white",
).configure_view(stroke="#222", strokeWidth=1)

chart.save("out.html", embed_options={"renderer": "svg", "actions": False})
